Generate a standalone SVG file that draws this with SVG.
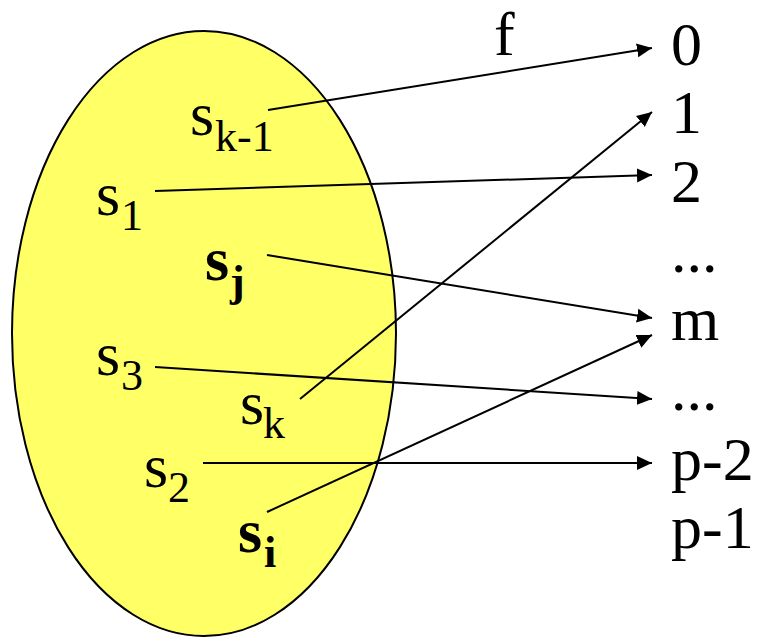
<svg xmlns="http://www.w3.org/2000/svg" width="757" height="637" viewBox="0 0 757 637">
<style>
.t{font-family:"Liberation Serif","Times New Roman",serif;font-size:62px;fill:#000}
.sub{font-size:44px}
.b{font-weight:bold}
.c{stroke:#000;stroke-width:2;fill:none;marker-end:url(#ah)}
</style>
<defs>
<marker id="ah" markerUnits="userSpaceOnUse" markerWidth="16" markerHeight="16" refX="15" refY="7" orient="auto" viewBox="0 0 16 14">
<path d="M0,0 L15,7 L0,14 Z" fill="#000"/>
</marker>
</defs>
<rect width="757" height="637" fill="#fff"/>
<g id="set">
<ellipse cx="204" cy="333.5" rx="192" ry="302.5" fill="#ffff66" stroke="#000" stroke-width="2"/>
</g>
<g id="connectors">
<line class="c" x1="268" y1="110" x2="652" y2="48"/>
<line class="c" x1="155" y1="191" x2="652" y2="175"/>
<line class="c" x1="267" y1="255" x2="652" y2="318"/>
<line class="c" x1="300" y1="399" x2="652" y2="112"/>
<line class="c" x1="155" y1="367" x2="652" y2="399"/>
<line class="c" x1="203" y1="463" x2="652" y2="463"/>
<line class="c" x1="267" y1="512" x2="652" y2="335"/>
</g>
<g id="label-f"><text class="t" x="494" y="55">f</text></g>
<g id="s-k-1"><text class="t" x="190" y="135">s<tspan class="sub" x="215" y="151">k-1</tspan></text></g>
<g id="s-1"><text class="t" x="96" y="215">s<tspan class="sub" x="121" y="230">1</tspan></text></g>
<g id="s-j"><text class="t b" x="205" y="280">s<tspan class="sub" x="230" y="296">j</tspan></text></g>
<g id="s-3"><text class="t" x="96" y="375">s<tspan class="sub" x="121" y="390">3</tspan></text></g>
<g id="s-k"><text class="t" x="240" y="424">s<tspan class="sub" x="263" y="438">k</tspan></text></g>
<g id="s-2"><text class="t" x="144" y="487">s<tspan class="sub" x="168" y="502">2</tspan></text></g>
<g id="s-i"><text class="t b" x="238" y="552">s<tspan class="sub" x="264" y="567">i</tspan></text></g>
<g id="targets">
<text class="t" x="671" y="65">0</text>
<text class="t" x="671" y="133">1</text>
<text class="t" x="671" y="202">2</text>
<text class="t" x="671" y="272">...</text>
<text class="t" x="671" y="340">m</text>
<text class="t" x="671" y="410">...</text>
<text class="t" x="671" y="480">p-2</text>
<text class="t" x="671" y="548">p-1</text>
</g>
</svg>
